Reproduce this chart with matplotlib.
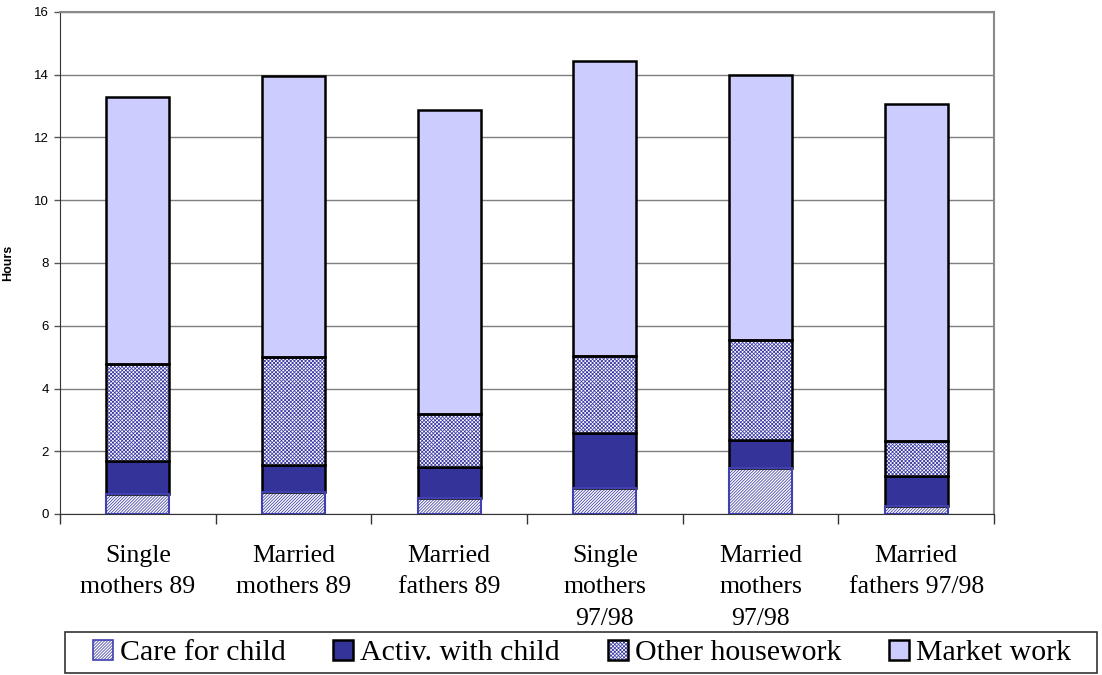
import numpy as np
import matplotlib
matplotlib.use("Agg")
import matplotlib.pyplot as plt
from matplotlib.patches import Rectangle
from matplotlib.legend_handler import HandlerTuple

plt.rcParams['hatch.linewidth'] = 0.55

groups = ["Single\nmothers 89", "Married\nmothers 89", "Married\nfathers 89",
          "Single\nmothers\n97/98", "Married\nmothers\n97/98", "Married\nfathers 97/98"]
care_child = [0.63, 0.71, 0.51, 0.82, 1.48, 0.26]
activ_child = [1.07, 0.84, 0.99, 1.76, 0.88, 0.96]
other_house = [3.08, 3.45, 1.69, 2.47, 3.19, 1.11]
market_work = [8.51, 8.96, 9.69, 9.39, 8.44, 10.74]

series = ["Care for child", "Activ. with child", "Other housework", "Market work"]

hatch_blue = "#3a3aa6"
navy = "#333399"
lilac = "#ccccff"
diag = "/" * 11
dots = "x" * 9

fig = plt.figure(figsize=(11.02, 6.75), dpi=100)
ax = fig.add_axes([60 / 1102, 161 / 675, 934 / 1102, 502 / 675])

x = np.arange(len(groups))
w = 0.405
care = np.array(care_child)
activ = np.array(activ_child)
other = np.array(other_house)
market = np.array(market_work)

# care for child: fine diagonal hatch, blue outline
ax.bar(x, care, w, color="white", edgecolor=hatch_blue, hatch=diag, linewidth=0, zorder=3)
ax.bar(x, care, w, color="none", edgecolor="#4040b0", linewidth=1.5, zorder=4)
# activities with child: solid navy
ax.bar(x, activ, w, bottom=care, color=navy, edgecolor="black", linewidth=1.8, zorder=3)
# other housework: dotted blue pattern, black outline drawn on top
b2 = care + activ
ax.bar(x, other, w, bottom=b2, color="white", edgecolor=hatch_blue, hatch=dots, linewidth=0, zorder=3)
ax.bar(x, other, w, bottom=b2, color="none", edgecolor="black", linewidth=1.8, zorder=4)
# market work
b3 = b2 + other
ax.bar(x, market, w, bottom=b3, color=lilac, edgecolor="black", linewidth=1.8, zorder=3)

ax.set_xlim(-0.5, len(groups) - 0.5)
ax.set_ylim(0, 16)
ax.set_yticks(np.arange(0, 17, 2))
ax.yaxis.grid(True, color="#7f7f7f", linewidth=1.0, zorder=0)
ax.set_axisbelow(True)

ax.set_xticks(np.arange(-0.5, len(groups), 1.0))
ax.set_xticklabels([])
ax.set_xticks(x, minor=True)
ax.set_xticklabels(groups, minor=True, fontsize=18.5, family="Liberation Serif", linespacing=1.58)
ax.tick_params(axis="x", which="major", direction="out", length=7, width=1, color="#333333")
ax.tick_params(axis="x", which="minor", length=0, pad=22)
ax.tick_params(axis="y", direction="out", length=4, width=1, color="#555555", pad=4,
               labelsize=9.5)
for lab in ax.get_yticklabels():
    lab.set_family("Liberation Sans")

ax.spines["left"].set_color("#333333")
ax.spines["bottom"].set_color("#333333")
ax.spines["top"].set_color("#8a8a8a")
ax.spines["right"].set_color("#8a8a8a")
ax.spines["top"].set_linewidth(1.5)
ax.spines["right"].set_linewidth(1.5)

ax.set_ylabel("Hours", fontsize=9, fontweight="bold", family="Liberation Sans", labelpad=14)

# legend with a framed box across the bottom
h_care = (Rectangle((0, 0), 1, 1, facecolor="white", edgecolor=hatch_blue, hatch=diag, linewidth=0),
          Rectangle((0, 0), 1, 1, facecolor="none", edgecolor="#4040b0", linewidth=1.2))
h_activ = Rectangle((0, 0), 1, 1, facecolor=navy, edgecolor="black", linewidth=1.8)
h_other = (Rectangle((0, 0), 1, 1, facecolor="white", edgecolor=hatch_blue, hatch=dots, linewidth=0),
           Rectangle((0, 0), 1, 1, facecolor="none", edgecolor="black", linewidth=1.8))
h_market = Rectangle((0, 0), 1, 1, facecolor=lilac, edgecolor="black", linewidth=1.8)

leg = fig.legend([h_care, h_activ, h_other, h_market], series, ncol=4,
                 loc="center left", bbox_to_anchor=(93 / 1102, 22 / 675),
                 frameon=False, borderpad=0, borderaxespad=0,
                 handlelength=0.67, handleheight=0.67, handletextpad=0.23,
                 columnspacing=1.6,
                 prop={"family": "Liberation Serif", "size": 21.5},
                 handler_map={tuple: HandlerTuple(ndivide=1, pad=0)})

fig.patches.append(Rectangle((65 / 1102, 2 / 675), 1032 / 1102, 41 / 675,
                             transform=fig.transFigure, fill=False,
                             edgecolor="#333333", linewidth=1.2))

fig.savefig("out.png", dpi=100)
